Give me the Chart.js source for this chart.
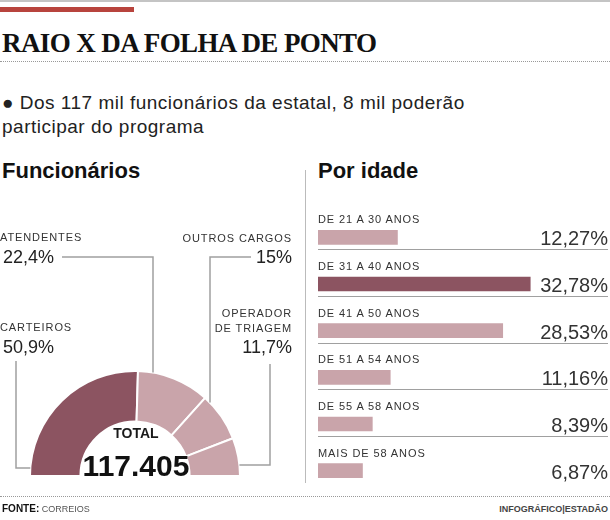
<!DOCTYPE html>
<html lang="pt-BR">
<head>
<meta charset="utf-8">
<title>Raio X da folha de ponto</title>
<script src="https://cdn.jsdelivr.net/npm/chart.js@4.4.1/dist/chart.umd.min.js"></script>
<style>
  html, body { margin: 0; padding: 0; background: #fff; }
  #page { position: relative; width: 610px; height: 520px; overflow: hidden;
          font-family: "Liberation Sans", Arial, sans-serif; color: #1a1a1a; }
  .abs { position: absolute; white-space: nowrap; line-height: 1; }
  .mid { transform: translateY(-50%); }
  .right { transform: translate(-100%, -50%); text-align: right; }
  .dots { position: absolute; left: 0; width: 610px; height: 0; border-top: 1px dotted #999; }
  .head { font-weight: bold; font-size: 22px; color: #111; }
  .small { font-size: 11px; letter-spacing: 0.9px; color: #333; }
  .pct { font-size: 18px; color: #222; }
  #topline { position: absolute; left: 0; top: 0; width: 610px; height: 2px; background: #c4c4c4; }
  #redbar { position: absolute; left: 0; top: 7px; width: 134px; height: 5px; background: #b8443d; }
  #title { left: 2px; top: 30px; font-family: "Liberation Serif", serif; font-weight: bold;
           font-size: 27px; letter-spacing: -0.6px; color: #111; }
  #sub { left: 2px; top: 91px; font-size: 19px; letter-spacing: 0.5px; line-height: 24px; color: #222; }
  #vsep { position: absolute; left: 305px; top: 170px; width: 1px; height: 313px; background: #bbb; }
  #donut { position: absolute; left: 0; top: 190px; }
  #bars { position: absolute; left: 310px; top: 195px; }
  #total1 { left: 136px; top: 433px; transform: translate(-50%, -50%); font-weight: bold; font-size: 14px; }
  #total2 { left: 136px; top: 466px; transform: translate(-50%, -50%); font-weight: bold; font-size: 30px; color: #111; }
  #fonte { left: 2px; top: 509px; font-size: 9px; color: #555; }
  #fonte b { color: #111; font-size: 10px; }
  #credit { left: 608px; top: 509px; font-size: 9px; color: #444; font-weight: bold; }
</style>
</head>
<body>
<div id="page">
  <div id="topline"></div>
  <div id="redbar"></div>
  <div id="title" class="abs">RAIO X DA FOLHA DE PONTO</div>
  <div class="dots" style="top:61px"></div>
  <div id="sub" class="abs">● Dos 117 mil funcionários da estatal, 8 mil poderão<br>participar do programa</div>
  <div class="abs head mid" style="left:2px;top:171px">Funcionários</div>
  <div class="abs head mid" style="left:318px;top:171px">Por idade</div>
  <div id="vsep"></div>
  <canvas id="donut" width="300" height="300"></canvas>
  <canvas id="bars" width="300" height="300"></canvas>
  <div class="abs" id="total1">TOTAL</div>
  <div class="abs" id="total2"></div>
  <div class="dots" style="top:496px"></div>
  <div class="abs mid" id="fonte"><b>FONTE:</b> CORREIOS</div>
  <div class="abs right" id="credit">INFOGRÁFICO|ESTADÃO</div>
</div>
<script>
// dados
const totalFuncionarios = 117405;
const cargos = ['CARTEIROS', 'ATENDENTES', 'OUTROS CARGOS', 'OPERADOR DE TRIAGEM'];
const cargosLinhas = [['CARTEIROS'], ['ATENDENTES'], ['OUTROS CARGOS'], ['OPERADOR', 'DE TRIAGEM']];
const cargosPct = [50.9, 22.4, 15, 11.7];

const faixas = ['DE 21 A 30 ANOS', 'DE 31 A 40 ANOS', 'DE 41 A 50 ANOS', 'DE 51 A 54 ANOS', 'DE 55 A 58 ANOS', 'MAIS DE 58 ANOS'];
const faixasPct = [12.27, 32.78, 28.53, 11.16, 8.39, 6.87];

const escuro = '#8c5461';
const claro = '#c9a4aa';
const linha = '#a0a0a0';

const page = document.getElementById('page');
const fmt = v => String(v).replace('.', ',') + '%';

function addLabel(text, x, y, cls, align) {
    const el = document.createElement('div');
    el.className = 'abs ' + cls + (align === 'right' ? ' right' : ' mid');
    el.style.left = x + 'px';
    el.style.top = y + 'px';
    el.textContent = text;
    page.appendChild(el);
    return el;
}

document.getElementById('total2').textContent = totalFuncionarios.toLocaleString('pt-BR');

// posicao dos rotulos do grafico de rosca (coordenadas da pagina)
const donutTop = 190;
const cargoLayout = [
    { x: 0, y: 327, align: 'left', px: 3, py: 347, start: [16, 361], corner: [16, 468], end: 'h' },
    { x: 0, y: 237, align: 'left', px: 3, py: 257, start: [62, 257], corner: [153, 257], end: 'v' },
    { x: 292, y: 238, align: 'right', px: 292, py: 257, start: [251, 257], corner: [210, 257], end: 'v' },
    { x: 292, y: 313, align: 'right', px: 292, py: 347, start: [270, 364], corner: [270, 465], end: 'h' }
];

cargoLayout.forEach((l, i) => {
    cargosLinhas[i].forEach((t, k) => addLabel(t, l.x, l.y + k * 15, 'small', l.align));
    addLabel(fmt(cargosPct[i]), l.px, l.py, 'pct', l.align);
});

const leaderLines = {
    id: 'leaderLines',
    afterDraw(chart) {
        const arc = chart.getDatasetMeta(0).data[0];
        const cx = arc.x, cy = arc.y, r = arc.outerRadius;
        const ctx = chart.ctx;
        ctx.save();
        ctx.strokeStyle = linha;
        ctx.lineWidth = 1.5;
        cargoLayout.forEach(l => {
            const sx = l.start[0], sy = l.start[1] - donutTop;
            const kx = l.corner[0], ky = l.corner[1] - donutTop;
            let ex, ey;
            if (l.end === 'h') {
                ey = ky;
                const d = Math.sqrt(r * r - (cy - ky) * (cy - ky));
                ex = kx < cx ? cx - d : cx + d;
            } else {
                ex = kx;
                ey = cy - Math.sqrt(r * r - (kx - cx) * (kx - cx));
            }
            ctx.beginPath();
            ctx.moveTo(sx, sy);
            ctx.lineTo(kx, ky);
            ctx.lineTo(ex, ey);
            ctx.stroke();
        });
        ctx.restore();
    }
};

new Chart(document.getElementById('donut'), {
    type: 'doughnut',
    data: {
        labels: cargos,
        datasets: [{
            data: cargosPct,
            backgroundColor: [escuro, claro, claro, claro],
            borderColor: '#fff',
            borderWidth: 2,
            hoverOffset: 0
        }]
    },
    options: {
        responsive: false,
        animation: false,
        rotation: -90,
        circumference: 180,
        cutout: '52%',
        layout: { padding: { left: 28, right: 58, top: 180, bottom: 13 } },
        plugins: { legend: { display: false }, tooltip: { enabled: false } }
    },
    plugins: [leaderLines]
});

// grafico de barras por idade
const barsLeft = 310, barsTop = 195;
const maxPct = Math.max(...faixasPct);

const separators = {
    id: 'separators',
    afterDatasetsDraw(chart) {
        const ctx = chart.ctx;
        const y = chart.scales.y;
        ctx.save();
        ctx.strokeStyle = linha;
        ctx.lineWidth = 1;
        for (let i = 0; i < faixas.length - 1; i++) {
            const py = Math.round(y.getPixelForValue(i) + 12) + 0.5;
            ctx.beginPath();
            ctx.moveTo(chart.chartArea.left, py);
            ctx.lineTo(chart.width - 2, py);
            ctx.stroke();
        }
        ctx.restore();
    }
};

const barChart = new Chart(document.getElementById('bars'), {
    type: 'bar',
    data: {
        labels: faixas,
        datasets: [{
            data: faixasPct,
            backgroundColor: faixasPct.map(v => v === maxPct ? escuro : claro),
            borderWidth: 0,
            barThickness: 14
        }]
    },
    options: {
        indexAxis: 'y',
        responsive: false,
        animation: false,
        layout: { padding: { left: 8, right: 33, top: 19, bottom: 1 } },
        scales: {
            x: { display: false, min: 0, max: 40 },
            y: { display: false }
        },
        plugins: { legend: { display: false }, tooltip: { enabled: false } }
    },
    plugins: [separators]
});

faixas.forEach((f, i) => {
    const cy = barsTop + barChart.scales.y.getPixelForValue(i);
    const x0 = barsLeft + barChart.chartArea.left;
    addLabel(f, x0, cy - 18, 'small', 'left');
    const v = addLabel(fmt(faixasPct[i]), 608, cy + 1, 'pct', 'right');
    v.style.fontSize = '20px';
    v.style.color = '#333';
});
</script>
</body>
</html>
